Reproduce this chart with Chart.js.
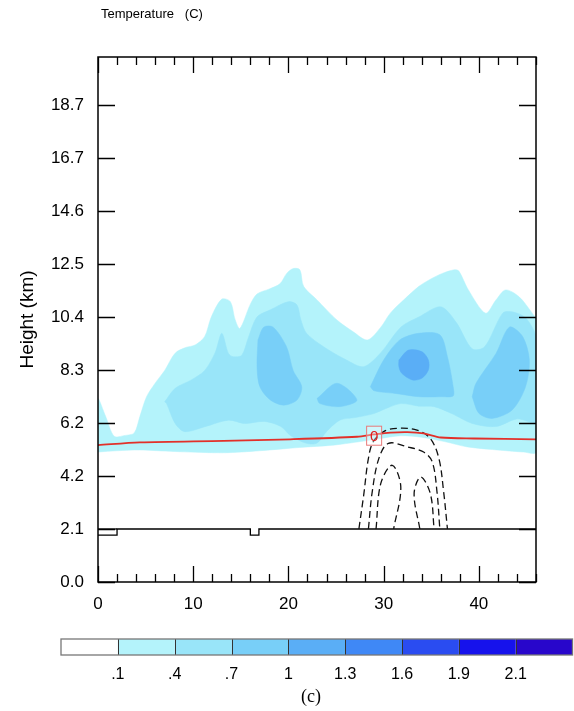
<!DOCTYPE html>
<html>
<head>
<meta charset="utf-8">
<script src="https://cdn.jsdelivr.net/npm/chart.js@4.4.1/dist/chart.umd.min.js"></script>
<style>
html, body { margin: 0; padding: 0; background: #fff; }
#wrap { width: 574px; height: 711px; }
</style>
</head>
<body>
<div id="wrap"><canvas id="tempChart" width="574" height="711"></canvas></div>
<script>
// colour levels of the filled contours
const levelLabels = ['.1', '.4', '.7', '1', '1.3', '1.6', '1.9', '2.1'];
const levelColors = ['#ffffff', '#b4f3fb', '#99e5f9', '#78cff8', '#5aaef6', '#3f88f6', '#2a4cf1', '#1612ec', '#2806cb'];

const yTicks = [0, 2.08, 4.16, 6.24, 8.32, 10.4, 12.48, 14.56, 16.64, 18.72];
const yTickLabels = ['0.0', '2.1', '4.2', '6.2', '8.3', '10.4', '12.5', '14.6', '16.7', '18.7'];

// contour bands as [distance, height km]
const band01 = [[0,5.1],[0,6.4],[0,7.2],[0.8,6.5],[1.7,5.72],[2.8,5.75],[3.8,5.85],[4.4,6.5],[5.1,7.27],[6.0,7.8],[7.0,8.3],[8.1,8.98],[9.2,9.2],[10.2,9.3],[11.2,9.63],[11.9,10.4],[13.0,11.1],[13.9,11.0],[14.4,10.3],[14.9,9.95],[16.0,10.9],[16.7,11.3],[18.0,11.5],[19.1,11.7],[19.8,12.1],[20.5,12.3],[21.2,12.25],[21.6,11.6],[23.0,11.07],[25.1,10.28],[26.8,9.82],[28.3,9.5],[29.7,10.0],[30.7,10.55],[32.2,11.1],[33.7,11.6],[35.0,11.9],[36.1,12.1],[37.4,12.25],[37.9,12.2],[38.9,11.46],[40.7,10.55],[41.8,11.07],[42.8,11.46],[44.2,11.2],[45.6,10.55],[46,10.3],[46,5.1],[44.7,5.1],[42.3,5.17],[38.8,5.3],[36.5,5.5],[34,5.68],[31.8,5.74],[29.5,5.62],[28.3,5.55],[24.7,5.37],[21.2,5.28],[17,5.15],[13.2,5.07],[8,5.12],[4.4,5.18],[2,5.15],[0,5.1]];
const band04 = [[7.0,7.07],[8.1,7.6],[9.8,7.93],[11.2,8.3],[12.3,9.0],[13.0,9.76],[13.7,8.97],[14.2,8.84],[15.1,8.9],[15.8,9.6],[16.7,10.4],[18.1,10.68],[20.0,11.0],[20.9,10.87],[21.3,10.3],[21.9,9.76],[23.7,9.23],[26.1,8.71],[27.9,8.45],[29.7,9.0],[31.8,10.0],[33.7,10.4],[36.0,10.8],[37.6,10.2],[39.3,9.15],[40.6,9.23],[42.5,10.55],[43.5,10.6],[44.8,10.4],[45.6,10.0],[46,9.6],[46,6.3],[44,6.4],[41.8,6.1],[39.3,6.22],[37.2,6.6],[35.3,6.88],[33.7,6.9],[31.8,7.0],[30.2,6.8],[28.9,6.6],[27,6.45],[25.4,6.35],[24,5.9],[23,5.45],[21.9,5.44],[20.2,5.75],[19.2,6.1],[17.5,6.3],[15.4,6.22],[13.7,6.35],[11.2,6.09],[9.1,5.9],[8.1,6.22],[7.2,7.0],[7.0,7.07]];
const band07a = [[16.8,9.5],[17.4,10.0],[18.4,10.0],[19.8,9.23],[20.5,8.3],[21.4,7.66],[20.9,7.14],[19.5,6.94],[18.1,7.14],[17.0,7.66],[16.7,8.45],[16.8,9.5]];
const band07b = [[23.0,7.2],[25.1,7.8],[27.2,7.14],[25.4,6.88],[23.3,7.0],[23.0,7.2]];
const band07c = [[28.6,7.66],[30.0,8.71],[31.7,9.5],[33.7,9.76],[35.9,9.7],[36.7,8.84],[37.3,7.66],[37.3,7.3],[36.1,7.27],[33.7,7.27],[31.2,7.4],[29.0,7.5],[28.6,7.66]];
const band07d = [[39.3,7.27],[39.7,7.8],[41.8,8.97],[43.2,10.0],[44.6,9.63],[45.3,8.71],[44.9,7.66],[43.5,6.75],[41.4,6.42],[40.0,6.62],[39.3,7.27]];
const band10 = [[31.6,8.71],[32.6,9.1],[34.0,9.04],[34.7,8.71],[34.7,8.32],[34.0,7.99],[33.0,7.93],[31.9,8.19],[31.6,8.45],[31.6,8.71]];

// 0 C isotherm
const freezingLevel = [[0,5.37],[4.4,5.48],[13.2,5.54],[20.2,5.6],[27.2,5.7],[29,5.79],[30.7,5.86],[32.5,5.88],[34.2,5.83],[36,5.67],[39.5,5.63],[46,5.6]];
const freezingLabelAt = [29.0, 5.74];

// dashed (negative) contours
const dashed1 = [[27.4,2.08],[27.9,3.4],[28.4,4.85],[28.9,5.5],[30.0,5.9],[31.4,6.03],[33.5,5.96],[34.9,5.63],[35.8,4.85],[36.3,3.54],[36.7,2.08]];
const dashed2 = [[28.4,2.08],[28.8,3.54],[29.5,4.85],[30.5,5.44],[32.5,5.3],[34.2,5.1],[35.1,4.72],[35.6,3.54],[35.9,2.08]];
const dashed3 = [[29.2,2.08],[29.7,3.87],[30.9,4.58],[31.8,3.73],[31.05,2.08]];
const dashed4 = [[33.8,2.08],[33.2,3.47],[33.9,4.12],[34.9,3.47],[35.3,2.08]];

const terrain = [[0,1.84],[2,1.84],[2,2.08],[16,2.08],[16,1.84],[16.9,1.84],[16.9,2.08],[46,2.08]];
const terrainLeft = [[0,2.08],[2,2.08]];

const FONT = '"Liberation Sans", Arial, Helvetica, sans-serif';

function pts(arr) {
    return arr.map(p => ({ x: p[0], y: p[1] }));
}

function bandSet(arr, color, order) {
    return {
        data: pts(arr), showLine: true, fill: 'shape', tension: 0.3,
        backgroundColor: color, borderColor: color, borderWidth: 0.5,
        pointRadius: 0, order: order
    };
}

function dashSet(arr) {
    return {
        data: pts(arr), showLine: true, fill: false, tension: 0.35,
        borderColor: '#111', borderWidth: 1.3, borderDash: [7, 4],
        pointRadius: 0, order: 2
    };
}

const framePlugin = {
    id: 'frame',
    afterDatasetsDraw(chart) {
        const { ctx, chartArea: a, scales: { x, y } } = chart;
        ctx.save();
        ctx.strokeStyle = '#000';
        ctx.lineWidth = 1.3;
        ctx.beginPath();
        x.ticks.forEach(t => {
            const px = Math.round(x.getPixelForValue(t.value)) + 0.5;
            const len = t.value % 10 === 0 ? 16 : 8;
            ctx.moveTo(px, a.bottom); ctx.lineTo(px, a.bottom - len);
            ctx.moveTo(px, a.top); ctx.lineTo(px, a.top + len);
        });
        y.ticks.forEach(t => {
            const py = Math.round(y.getPixelForValue(t.value)) + 0.5;
            ctx.moveTo(a.left, py); ctx.lineTo(a.left + 17, py);
            ctx.moveTo(a.right, py); ctx.lineTo(a.right - 17, py);
        });
        ctx.stroke();
        ctx.lineWidth = 1.5;
        ctx.strokeRect(a.left, a.top, a.right - a.left, a.bottom - a.top);

        // freezing level label
        const lx = x.getPixelForValue(freezingLabelAt[0]);
        const ly = y.getPixelForValue(freezingLabelAt[1]);
        ctx.fillStyle = 'rgba(255,255,255,0.35)';
        ctx.fillRect(lx - 7.5, ly - 9.5, 15, 19);
        ctx.strokeStyle = '#e87a7a';
        ctx.lineWidth = 1;
        ctx.strokeRect(lx - 7.5, ly - 9.5, 15, 19);
        ctx.fillStyle = '#e01e1e';
        ctx.font = '15px ' + FONT;
        ctx.textAlign = 'center';
        ctx.textBaseline = 'middle';
        ctx.fillText('0', lx, ly + 1);
        ctx.restore();
    },
    afterDraw(chart) {
        const { ctx } = chart;
        ctx.save();
        ctx.fillStyle = '#000';
        ctx.font = '13px ' + FONT;
        ctx.textAlign = 'left';
        ctx.textBaseline = 'middle';
        ctx.fillText('Temperature   (C)', 101, 14);

        // colour bar
        const x0 = 61, x1 = 572.5, top = 639, h = 16;
        const w = (x1 - x0) / levelColors.length;
        levelColors.forEach((c, i) => {
            ctx.fillStyle = c;
            ctx.fillRect(x0 + i * w, top, w, h);
        });
        ctx.strokeStyle = '#333';
        ctx.lineWidth = 1;
        ctx.beginPath();
        for (let i = 1; i < levelColors.length; i++) {
            const px = Math.round(x0 + i * w) + 0.5;
            ctx.moveTo(px, top); ctx.lineTo(px, top + h);
        }
        ctx.stroke();
        ctx.strokeStyle = '#777';
        ctx.lineWidth = 1.3;
        ctx.strokeRect(x0, top, x1 - x0, h);

        ctx.fillStyle = '#000';
        ctx.font = '16px ' + FONT;
        ctx.textAlign = 'center';
        levelLabels.forEach((lab, i) => {
            ctx.fillText(lab, x0 + (i + 1) * w, 675);
        });
        ctx.font = '18px "Liberation Serif", "Times New Roman", serif';
        ctx.fillText('(c)', 311, 697);
        ctx.restore();
    }
};

new Chart(document.getElementById('tempChart'), {
    type: 'scatter',
    data: {
        datasets: [
            bandSet(band01, levelColors[1], 10),
            bandSet(band04, levelColors[2], 9),
            bandSet(band07a, levelColors[3], 8),
            bandSet(band07b, levelColors[3], 8),
            bandSet(band07c, levelColors[3], 8),
            bandSet(band07d, levelColors[3], 8),
            bandSet(band10, levelColors[4], 7),
            { data: pts(terrain), showLine: true, fill: false, tension: 0, borderColor: '#000', borderWidth: 1.3, pointRadius: 0, order: 3 },
            { data: pts(terrainLeft), showLine: true, fill: false, tension: 0, borderColor: '#000', borderWidth: 1.3, pointRadius: 0, order: 3 },
            dashSet(dashed1),
            dashSet(dashed2),
            dashSet(dashed3),
            dashSet(dashed4),
            { data: pts(freezingLevel), showLine: true, fill: false, tension: 0.3, borderColor: '#e2302a', borderWidth: 1.8, pointRadius: 0, order: 1 }
        ]
    },
    options: {
        responsive: false,
        animation: false,
        devicePixelRatio: 1,
        layout: { padding: { top: 57, right: 38, bottom: 0, left: 0 } },
        plugins: {
            legend: { display: false },
            tooltip: { enabled: false }
        },
        scales: {
            x: {
                type: 'linear', min: 0, max: 46,
                grid: { display: false, drawTicks: false },
                border: { display: false },
                ticks: {
                    stepSize: 2, autoSkip: false, maxRotation: 0, padding: 12,
                    color: '#000', font: { family: FONT, size: 17 },
                    callback: v => (v % 10 === 0 ? String(v) : '')
                },
                afterFit: s => { s.height = 129; }
            },
            y: {
                type: 'linear', min: 0, max: 20.6,
                grid: { display: false, drawTicks: false },
                border: { display: false },
                afterBuildTicks: s => { s.ticks = yTicks.map(v => ({ value: v })); },
                ticks: {
                    padding: 14, color: '#000', font: { family: FONT, size: 17 },
                    callback: (v, i) => yTickLabels[i]
                },
                title: {
                    display: true, text: 'Height (km)', color: '#000',
                    font: { family: FONT, size: 19 }, padding: { top: 16, bottom: 0 }
                },
                afterFit: s => { s.width = 98; }
            }
        }
    },
    plugins: [framePlugin]
});
</script>
</body>
</html>
